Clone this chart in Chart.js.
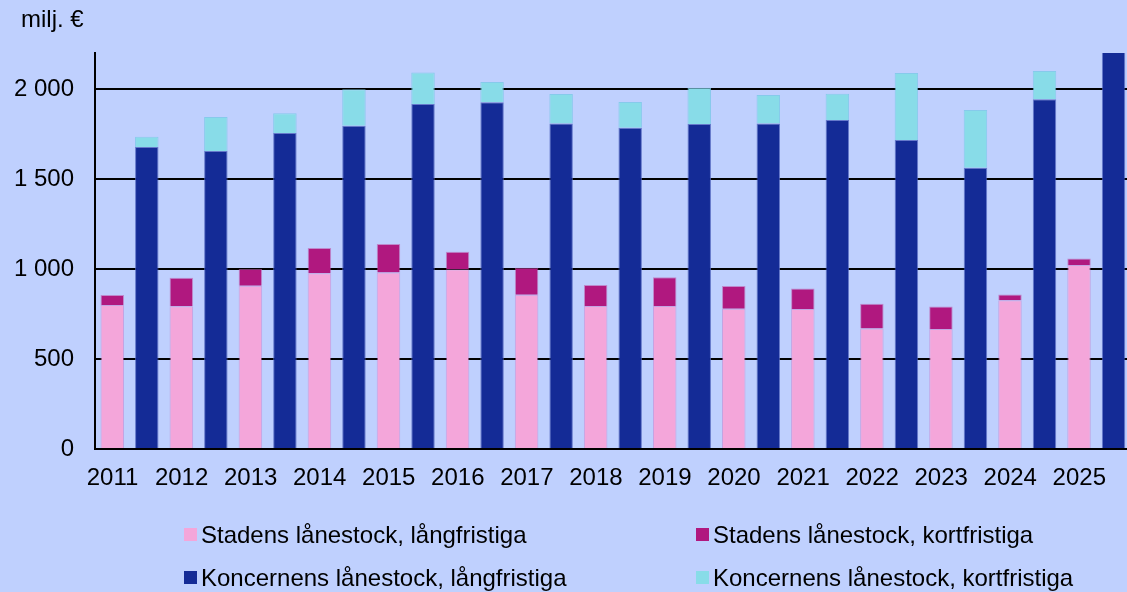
<!DOCTYPE html>
<html>
<head>
<meta charset="utf-8">
<script src="https://cdn.jsdelivr.net/npm/chart.js@4/dist/chart.umd.min.js"></script>
<style>
  html, body { margin: 0; padding: 0; background: #bfd0fe; overflow: hidden; }
  #wrap { position: relative; width: 1127px; height: 592px; overflow: hidden; }
  #chart { position: absolute; left: 0; top: 0; }
  #legend {
    position: absolute; left: 184px; top: 513px;
    display: grid; grid-template-columns: 512px auto;
    font: 24px "Liberation Sans", Arial, sans-serif; color: #000;
  }
  .item { display: flex; align-items: center; height: 43px; white-space: nowrap; }
  .box { width: 13px; height: 13px; margin-right: 4px; flex: none; }
</style>
</head>
<body>
<div id="wrap">
  <canvas id="chart" width="1138" height="592"></canvas>
  <div id="legend"></div>
</div>
<script>
const years = ["2011", "2012", "2013", "2014", "2015", "2016", "2017", "2018",
               "2019", "2020", "2021", "2022", "2023", "2024", "2025"];

// Stadens lånestock (milj. €)
const stadLong  = [800, 793, 907, 976, 980, 998, 857, 794, 794, 779, 778, 670, 667, 826, 1022];
const stadShort = [56, 159, 93, 141, 159, 98, 150, 117, 160, 127, 113, 137, 124, 33, 37];

// Koncernens lånestock (milj. €) - 2025 runs off the top of the chart
const koncLong  = [1678, 1656, 1756, 1796, 1917, 1926, 1809, 1785, 1806, 1809, 1828, 1717, 1563, 1943, 2230];
const koncShort = [57, 188, 109, 202, 174, 113, 163, 143, 201, 158, 146, 372, 320, 157, 120];

const yTicks = [0, 500, 1000, 1500, 2000];
const yMin = 0;
const yMax = 2200;
const unitText = "milj. €";

const seriesNames = [
  "Stadens lånestock, långfristiga",
  "Stadens lånestock, kortfristiga",
  "Koncernens lånestock, långfristiga",
  "Koncernens lånestock, kortfristiga"
];

const FONT = '"Liberation Sans", Arial, sans-serif';
Chart.defaults.font.family = FONT;
Chart.defaults.font.size = 24;
Chart.defaults.color = "#000";

function fmt(v) {
  return String(v).replace(/\B(?=(\d{3})+(?!\d))/g, " ");
}

const unitLabel = {
  id: "unitLabel",
  afterDraw(chart) {
    const ctx = chart.ctx;
    ctx.save();
    ctx.font = "24px " + FONT;
    ctx.fillStyle = "#000";
    ctx.textBaseline = "alphabetic";
    ctx.fillText(unitText, 21, 27);
    ctx.restore();
  }
};

const chart = new Chart(document.getElementById("chart"), {
  type: "bar",
  data: {
    labels: years,
    datasets: [
      { label: seriesNames[0], data: stadLong, stack: "stad",
        backgroundColor: "#f4a6da", borderColor: "rgba(200,120,200,0.5)" },
      { label: seriesNames[1], data: stadShort, stack: "stad",
        backgroundColor: "#b0187f", borderColor: "rgba(190,90,170,0.6)" },
      { label: seriesNames[2], data: koncLong, stack: "konc",
        backgroundColor: "#142b96", borderColor: "rgba(80,100,190,0.8)" },
      { label: seriesNames[3], data: koncShort, stack: "konc",
        backgroundColor: "#88dce8", borderColor: "rgba(120,200,230,0.8)" }
    ]
  },
  options: {
    responsive: false,
    animation: false,
    datasets: {
      bar: { categoryPercentage: 1.0, barPercentage: 0.68, borderWidth: 1 }
    },
    layout: { padding: { top: 53, left: 0, right: 0, bottom: 0 } },
    plugins: {
      legend: { display: false },
      tooltip: { enabled: false }
    },
    scales: {
      x: {
        stacked: true,
        grid: { display: false, drawTicks: false },
        border: { display: true, color: "#000", width: 2 },
        ticks: { padding: 15, labelOffset: -17, maxRotation: 0, autoSkip: false },
        afterFit(scale) { scale.height = 143; }
      },
      y: {
        stacked: true,
        min: yMin,
        max: yMax,
        grid: { color: "#000", lineWidth: 2, drawTicks: false },
        border: { display: true, color: "#000", width: 2 },
        ticks: { padding: 21, callback: v => fmt(v) },
        afterBuildTicks(scale) { scale.ticks = yTicks.map(v => ({ value: v })); },
        afterFit(scale) { scale.width = 95; }
      }
    }
  },
  plugins: [unitLabel]
});

// legend in two columns, built from the datasets
const legend = document.getElementById("legend");
chart.data.datasets.forEach(ds => {
  const item = document.createElement("div");
  item.className = "item";
  const box = document.createElement("span");
  box.className = "box";
  box.style.background = ds.backgroundColor;
  const txt = document.createElement("span");
  txt.textContent = ds.label;
  item.appendChild(box);
  item.appendChild(txt);
  legend.appendChild(item);
});
</script>
</body>
</html>
